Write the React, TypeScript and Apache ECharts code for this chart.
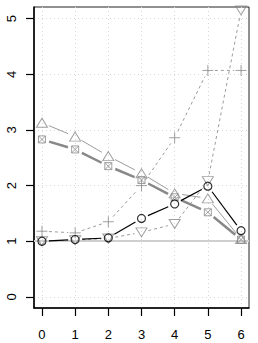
import React, { useEffect, useRef } from "react";
import * as echarts from "echarts";

const xs = [0, 1, 2, 3, 4, 5, 6];
const circleVals = [1.0, 1.03, 1.06, 1.41, 1.67, 1.99, 1.19];
const triUpVals = [3.13, 2.88, 2.53, 2.22, 1.86, 1.77, 1.04];
const boxXVals = [2.83, 2.65, 2.35, 2.1, 1.79, 1.52, 1.03];
const plusVals = [1.18, 1.15, 1.35, 2.0, 2.86, 4.07, 4.07];
const triDownVals = [1.0, 1.02, 1.05, 1.16, 1.31, 2.08, 5.15];
const xTicks = [0, 1, 2, 3, 4, 5, 6];
const yTicks = [0, 1, 2, 3, 4, 5];

const TRI_UP = "path://M0,-1 L0.866,0.5 L-0.866,0.5 Z";
const TRI_DOWN = "path://M0,1 L0.866,-0.5 L-0.866,-0.5 Z";
const BOX_X = "path://M-1,-1 L1,-1 L1,1 L-1,1 Z M-1,-1 L1,1 M1,-1 L-1,1";
const PLUS = "path://M0,-1 L0,1 M-1,0 L1,0";

function segs(vals: number[]) {
  return xs.slice(0, -1).map((x, i) => [x, vals[i], xs[i + 1], vals[i + 1]]);
}

function segSeries(vals: number[], color: string, width: number, dash: number[] | null, gap: number, z: number) {
  return {
    type: "custom",
    z,
    data: segs(vals),
    encode: { x: [0, 2], y: [1, 3] },
    renderItem: (params: any, api: any) => {
      const p0 = api.coord([api.value(0), api.value(1)]);
      const p1 = api.coord([api.value(2), api.value(3)]);
      const dx = p1[0] - p0[0];
      const dy = p1[1] - p0[1];
      const d = Math.sqrt(dx * dx + dy * dy);
      if (d <= 2 * gap) return { type: "group", children: [] };
      const ux = dx / d;
      const uy = dy / d;
      return {
        type: "line",
        shape: {
          x1: p0[0] + ux * gap,
          y1: p0[1] + uy * gap,
          x2: p1[0] - ux * gap,
          y2: p1[1] - uy * gap,
        },
        style: { stroke: color, lineWidth: width, lineDash: dash || undefined, fill: null },
      };
    },
  };
}

function pts(vals: number[]) {
  return xs.map((x, i) => [x, vals[i]]);
}

function markerSeries(vals: number[], symbol: string, size: any, color: string, width: number, z: number) {
  return {
    type: "scatter",
    z,
    data: pts(vals),
    symbol,
    symbolSize: size,
    itemStyle: { color: "transparent", borderColor: color, borderWidth: width },
    emphasis: { disabled: true },
  };
}

export default function App() {
  const ref = useRef<HTMLDivElement>(null);
  useEffect(() => {
    if (!ref.current) return;
    const chart = echarts.init(ref.current, null, { renderer: "svg" });
    const gray = "#888888";
    const lgray = "#9c9c9c";
    chart.setOption({
      animation: false,
      grid: {
        left: 34,
        right: 9,
        top: 7,
        bottom: 35,
        show: true,
        borderColor: "#222",
        borderWidth: 1,
      },
      xAxis: {
        type: "value",
        min: -0.24,
        max: 6.24,
        axisLine: { show: true, onZero: false, lineStyle: { color: "#000", width: 1.5 } },
        axisTick: { show: true, customValues: xTicks, length: 8, lineStyle: { color: "#000", width: 1.2 } },
        axisLabel: { customValues: xTicks, color: "#000", fontSize: 13, margin: 20, fontFamily: "Liberation Sans" },
        splitLine: { show: true, lineStyle: { color: "#d6d6d6", type: [1, 3], width: 1 } },
      },
      yAxis: {
        type: "value",
        min: -0.2,
        max: 5.21,
        axisLine: { show: true, onZero: false, lineStyle: { color: "#000", width: 1.5 } },
        axisTick: { show: true, customValues: yTicks, length: 8, lineStyle: { color: "#000", width: 1.2 } },
        axisLabel: { customValues: yTicks, color: "#000", fontSize: 13, margin: 16, rotate: 90, fontFamily: "Liberation Sans" },
        splitLine: { show: true, lineStyle: { color: "#d6d6d6", type: [1, 3], width: 1 } },
      },
      series: [
        {
          type: "scatter",
          data: [],
          z: 1,
          markLine: {
            silent: true,
            symbol: "none",
            z: 1,
            label: { show: false },
            lineStyle: { color: "#cfcfcf", width: 2, type: "solid" },
            data: [{ yAxis: 1 }],
          },
        },
        segSeries(plusVals, lgray, 1, [3, 3], 7, 2),
        segSeries(triDownVals, lgray, 1, [3, 3], 7, 2),
        segSeries(triUpVals, lgray, 1, null, 7.5, 2),
        segSeries(boxXVals, gray, 2.5, null, 7.5, 2),
        segSeries(circleVals, "#000", 1.2, null, 7, 3),
        markerSeries(plusVals, PLUS, 11, gray, 1, 4),
        markerSeries(triDownVals, TRI_DOWN, [11, 9], gray, 1, 4),
        markerSeries(triUpVals, TRI_UP, [11, 9], gray, 1, 4),
        markerSeries(boxXVals, BOX_X, 7, gray, 1, 4),
        markerSeries(circleVals, "circle", 8, "#000", 1.2, 5),
      ],
    });
    return () => chart.dispose();
  }, []);
  return <div ref={ref} style={{ position: "absolute", left: 0, top: 0, width: 258, height: 343 }} />;
}
